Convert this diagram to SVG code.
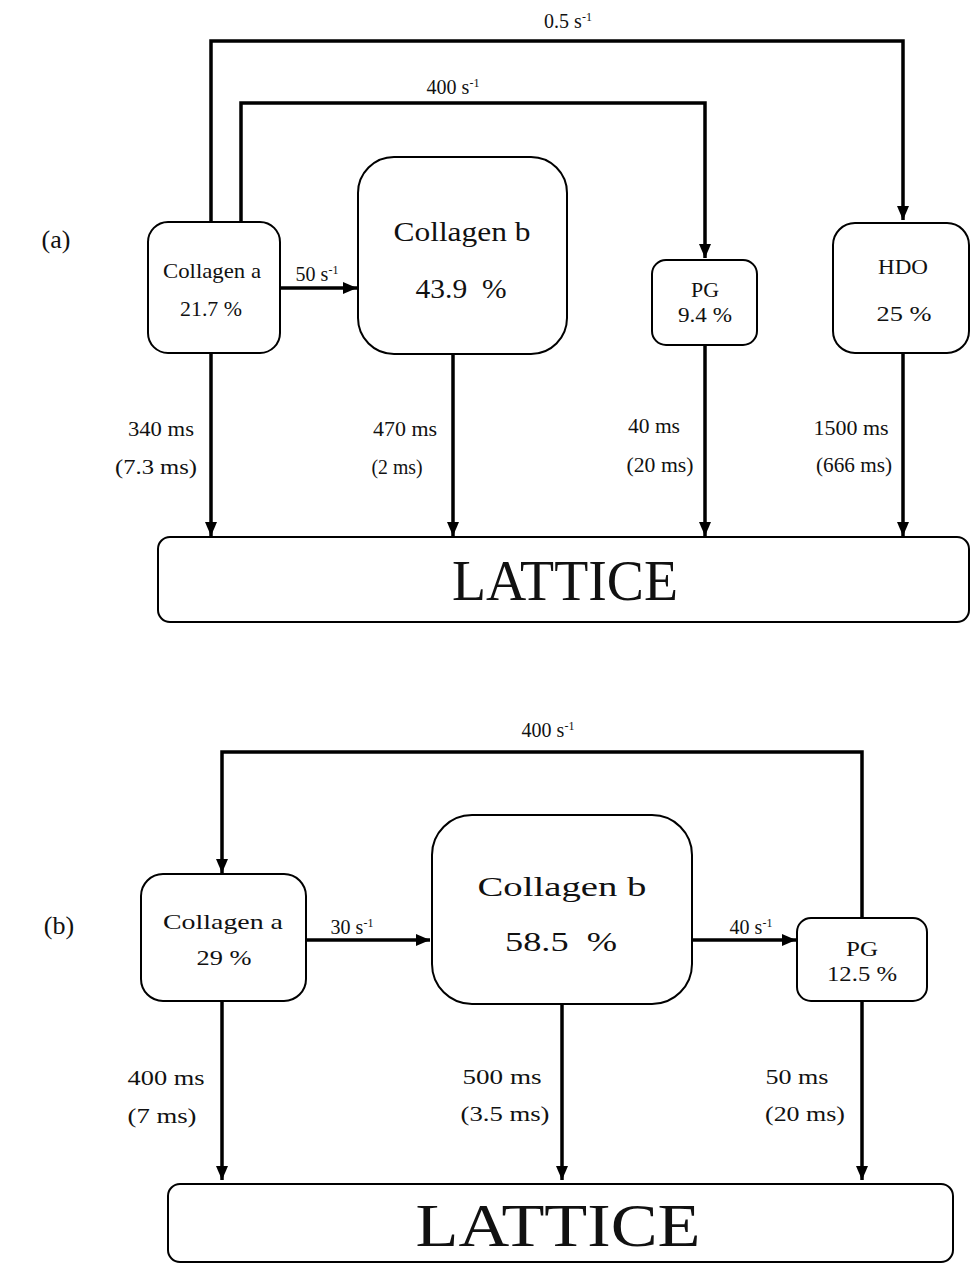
<svg xmlns="http://www.w3.org/2000/svg" width="971" height="1264" viewBox="0 0 971 1264">
<style>
.box{fill:#fff;stroke:#000;stroke-width:2}
.con{fill:none;stroke:#000;stroke-width:3.5}
text{font-family:"Liberation Serif","Times New Roman",serif;fill:#111;text-anchor:middle}
.r{font-size:20px}
.s{font-size:20px}
.m{font-size:21px}
.big{font-size:28px}
.lat{font-size:56px}
.tag{font-size:26px}
.sup{font-size:12px}
</style>
<defs>
<marker id="ah" markerUnits="userSpaceOnUse" markerWidth="14" markerHeight="12" refX="14" refY="6" orient="auto">
<path d="M0,0 L14,6 L0,12 z" fill="#000"/>
</marker>
</defs>
<rect width="971" height="1264" fill="#fff"/>

<g id="connectors">
<path class="con" d="M211,222 V41 H903 V220" marker-end="url(#ah)"/>
<path class="con" d="M241,222 V103 H705 V258" marker-end="url(#ah)"/>
<path class="con" d="M280,288 H357" marker-end="url(#ah)"/>
<path class="con" d="M211,353 V536" marker-end="url(#ah)"/>
<path class="con" d="M453,354 V536" marker-end="url(#ah)"/>
<path class="con" d="M705,345 V536" marker-end="url(#ah)"/>
<path class="con" d="M903,353 V536" marker-end="url(#ah)"/>
<path class="con" d="M862,918 V752 H222 V873" marker-end="url(#ah)"/>
<path class="con" d="M306,940 H430" marker-end="url(#ah)"/>
<path class="con" d="M692,940 H796" marker-end="url(#ah)"/>
<path class="con" d="M222,1002 V1180" marker-end="url(#ah)"/>
<path class="con" d="M562,1003 V1180" marker-end="url(#ah)"/>
<path class="con" d="M862,1002 V1180" marker-end="url(#ah)"/>
</g>

<g id="labels">
<text class="r" x="568" y="28">0.5 s<tspan class="sup" dy="-7">-1</tspan></text>
<text class="r" x="453" y="94">400 s<tspan class="sup" dy="-7">-1</tspan></text>
<text class="r" x="317" y="281">50 s<tspan class="sup" dy="-7">-1</tspan></text>
<text class="s" x="161" y="436" textLength="66" lengthAdjust="spacingAndGlyphs">340 ms</text>
<text class="s" x="156" y="474" textLength="82" lengthAdjust="spacingAndGlyphs">(7.3 ms)</text>
<text class="s" x="405" y="436" textLength="64" lengthAdjust="spacingAndGlyphs">470 ms</text>
<text class="s" x="397" y="474" textLength="51" lengthAdjust="spacingAndGlyphs">(2 ms)</text>
<text class="s" x="654" y="433" textLength="52" lengthAdjust="spacingAndGlyphs">40 ms</text>
<text class="s" x="660" y="472" textLength="67" lengthAdjust="spacingAndGlyphs">(20 ms)</text>
<text class="s" x="851" y="435" textLength="75" lengthAdjust="spacingAndGlyphs">1500 ms</text>
<text class="s" x="854" y="472" textLength="76" lengthAdjust="spacingAndGlyphs">(666 ms)</text>
<text class="tag" x="56" y="248">(a)</text>

<text class="r" x="548" y="737">400 s<tspan class="sup" dy="-7">-1</tspan></text>
<text class="r" x="352" y="934">30 s<tspan class="sup" dy="-7">-1</tspan></text>
<text class="r" x="751" y="934">40 s<tspan class="sup" dy="-7">-1</tspan></text>
<text class="s" x="166" y="1085" textLength="77" lengthAdjust="spacingAndGlyphs">400 ms</text>
<text class="s" x="162" y="1123" textLength="69" lengthAdjust="spacingAndGlyphs">(7 ms)</text>
<text class="s" x="502" y="1084" textLength="79" lengthAdjust="spacingAndGlyphs">500 ms</text>
<text class="s" x="505" y="1121" textLength="89" lengthAdjust="spacingAndGlyphs">(3.5 ms)</text>
<text class="s" x="797" y="1084" textLength="63" lengthAdjust="spacingAndGlyphs">50 ms</text>
<text class="s" x="805" y="1121" textLength="80" lengthAdjust="spacingAndGlyphs">(20 ms)</text>
<text class="tag" x="59" y="934">(b)</text>
</g>

<g id="a-collagen-a">
<rect class="box" x="148" y="222" width="132" height="131" rx="20"/>
<text class="m" x="212" y="278" textLength="98" lengthAdjust="spacingAndGlyphs">Collagen a</text>
<text class="m" x="211" y="316" textLength="62" lengthAdjust="spacingAndGlyphs">21.7 %</text>
</g>
<g id="a-collagen-b">
<rect class="box" x="358" y="157" width="209" height="197" rx="36"/>
<text class="big" x="462" y="241" textLength="137" lengthAdjust="spacingAndGlyphs">Collagen b</text>
<text class="big" x="461" y="298" textLength="91" lengthAdjust="spacingAndGlyphs" xml:space="preserve">43.9  %</text>
</g>
<g id="a-pg">
<rect class="box" x="652" y="260" width="105" height="85" rx="14"/>
<text class="m" x="705" y="297" textLength="28" lengthAdjust="spacingAndGlyphs">PG</text>
<text class="m" x="705" y="322" textLength="54" lengthAdjust="spacingAndGlyphs">9.4 %</text>
</g>
<g id="a-hdo">
<rect class="box" x="833" y="223" width="136" height="130" rx="22"/>
<text class="m" x="903" y="274" textLength="50" lengthAdjust="spacingAndGlyphs">HDO</text>
<text class="m" x="904" y="321" textLength="55" lengthAdjust="spacingAndGlyphs">25 %</text>
</g>
<g id="a-lattice">
<rect class="box" x="158" y="537" width="811" height="85" rx="12"/>
<text class="lat" x="565" y="600" textLength="226" lengthAdjust="spacingAndGlyphs">LATTICE</text>
</g>

<g id="b-collagen-a">
<rect class="box" x="141" y="874" width="165" height="127" rx="22"/>
<text class="m" x="223" y="929" textLength="120" lengthAdjust="spacingAndGlyphs">Collagen a</text>
<text class="m" x="224" y="965" textLength="55" lengthAdjust="spacingAndGlyphs">29 %</text>
</g>
<g id="b-collagen-b">
<rect class="box" x="432" y="815" width="260" height="189" rx="40"/>
<text class="big" x="562" y="896" textLength="169" lengthAdjust="spacingAndGlyphs">Collagen b</text>
<text class="big" x="561" y="951" textLength="112" lengthAdjust="spacingAndGlyphs" xml:space="preserve">58.5  %</text>
</g>
<g id="b-pg">
<rect class="box" x="797" y="918" width="130" height="83" rx="14"/>
<text class="m" x="862" y="956" textLength="32" lengthAdjust="spacingAndGlyphs">PG</text>
<text class="m" x="862" y="981" textLength="70" lengthAdjust="spacingAndGlyphs">12.5 %</text>
</g>
<g id="b-lattice">
<rect class="box" x="168" y="1184" width="785" height="78" rx="12"/>
<text class="lat" x="558" y="1246" style="font-size:62px" textLength="285" lengthAdjust="spacingAndGlyphs">LATTICE</text>
</g>
</svg>
